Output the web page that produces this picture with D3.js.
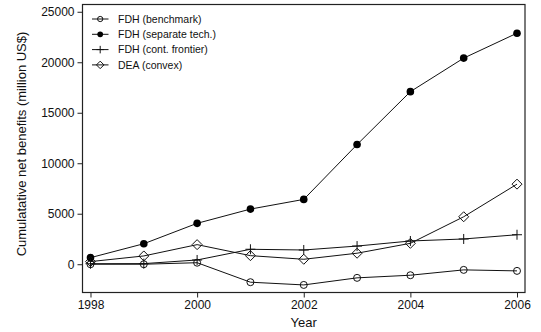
<!DOCTYPE html>
<html>
<head>
<meta charset="utf-8">
<script src="https://cdn.jsdelivr.net/npm/d3@7"></script>
<style>
  html, body { margin: 0; padding: 0; background: #fff; }
  svg { display: block; font-family: "Liberation Sans", Arial, sans-serif; }
</style>
</head>
<body>
<div id="chart"></div>
<script>
// data
const years = [1998, 1999, 2000, 2001, 2002, 2003, 2004, 2005, 2006];
const fdhBenchmark = [0, 0, 150, -1780, -2050, -1350, -1090, -560, -660];
const fdhSeparate = [650, 2030, 4050, 5460, 6420, 11850, 17090, 20410, 22880];
const fdhContFrontier = [50, 60, 420, 1480, 1410, 1800, 2300, 2500, 2920];
const deaConvex = [260, 820, 1940, 850, 490, 1090, 2070, 4700, 7930];
const seriesNames = ["FDH (benchmark)", "FDH (separate tech.)", "FDH (cont. frontier)", "DEA (convex)"];
const yTicks = [0, 5000, 10000, 15000, 20000, 25000];
const xTicks = [1998, 2000, 2002, 2004, 2006];

const width = 541, height = 332;
const box = { left: 82.5, right: 525, top: 4.5, bottom: 292.5 };

const svg = d3.select("#chart").append("svg")
    .attr("width", width)
    .attr("height", height);

const x = d3.scaleLinear().domain([1997.85, 2006.15]).range([box.left, box.right]);
const y = d3.scaleLinear().domain([-2800, 25720]).range([box.bottom, box.top]);

// plot frame
svg.append("rect")
    .attr("x", box.left).attr("y", box.top)
    .attr("width", box.right - box.left).attr("height", box.bottom - box.top)
    .attr("fill", "none").attr("stroke", "#222").attr("stroke-width", 1.2);

// axes
const yAxis = svg.append("g")
    .attr("transform", `translate(${box.left},0)`)
    .call(d3.axisLeft(y).tickValues(yTicks).tickSize(5).tickPadding(3).tickFormat(d3.format("d")));
const xAxis = svg.append("g")
    .attr("transform", `translate(0,${box.bottom})`)
    .call(d3.axisBottom(x).tickValues(xTicks).tickSize(5).tickPadding(3).tickFormat(d3.format("d")));

[yAxis, xAxis].forEach(g => {
    g.select(".domain").remove();
    g.selectAll("line").attr("stroke", "#222").attr("stroke-width", 1);
    g.selectAll("text").attr("fill", "#111").style("font-size", "12px")
        .style("font-family", "'Liberation Sans', Arial, sans-serif");
});

// axis titles
svg.append("text")
    .attr("x", x(2002)).attr("y", 327)
    .attr("text-anchor", "middle")
    .style("font-size", "13px").attr("fill", "#111")
    .text("Year");
svg.append("text")
    .attr("transform", `translate(26,144) rotate(-90)`)
    .attr("text-anchor", "middle")
    .style("font-size", "13px").attr("fill", "#111")
    .text("Cumulatative net benefits (million US$)");

// markers
function drawMarker(g, type, cx, cy, s = 1) {
    if (type === "circle") {
        g.append("circle").attr("cx", cx).attr("cy", cy).attr("r", 3.5 * s)
            .attr("fill", "none").attr("stroke", "#111").attr("stroke-width", 1);
    } else if (type === "dot") {
        g.append("circle").attr("cx", cx).attr("cy", cy).attr("r", 3.8 * s)
            .attr("fill", "#000");
    } else if (type === "plus") {
        const h = 5 * s;
        g.append("path")
            .attr("d", `M${cx - h},${cy}H${cx + h}M${cx},${cy - h}V${cy + h}`)
            .attr("stroke", "#111").attr("stroke-width", 1).attr("fill", "none");
    } else if (type === "diamond") {
        const h = 5 * s;
        g.append("path")
            .attr("d", `M${cx},${cy - h}L${cx + h},${cy}L${cx},${cy + h}L${cx - h},${cy}Z`)
            .attr("fill", "none").attr("stroke", "#111").attr("stroke-width", 1);
    }
}

const series = [
    { name: seriesNames[0], values: fdhBenchmark, marker: "circle" },
    { name: seriesNames[1], values: fdhSeparate, marker: "dot" },
    { name: seriesNames[2], values: fdhContFrontier, marker: "plus" },
    { name: seriesNames[3], values: deaConvex, marker: "diamond" }
];

const line = d3.line().x(d => x(d[0])).y(d => y(d[1]));

series.forEach(s => {
    const pts = years.map((yr, i) => [yr, s.values[i]]);
    const g = svg.append("g");
    g.append("path").datum(pts)
        .attr("d", line)
        .attr("fill", "none").attr("stroke", "#111").attr("stroke-width", 1);
    pts.forEach(p => drawMarker(g, s.marker, x(p[0]), y(p[1])));
});

// legend
const legend = svg.append("g");
series.forEach((s, i) => {
    const ly = 19 + i * 15.3;
    legend.append("line")
        .attr("x1", 92).attr("x2", 108.5).attr("y1", ly).attr("y2", ly)
        .attr("stroke", "#111").attr("stroke-width", 1);
    drawMarker(legend, s.marker, 100.2, ly, 0.75);
    legend.append("text")
        .attr("x", 118).attr("y", ly + 3.8)
        .style("font-size", "10.5px").attr("fill", "#111")
        .text(s.name);
});
</script>
</body>
</html>
